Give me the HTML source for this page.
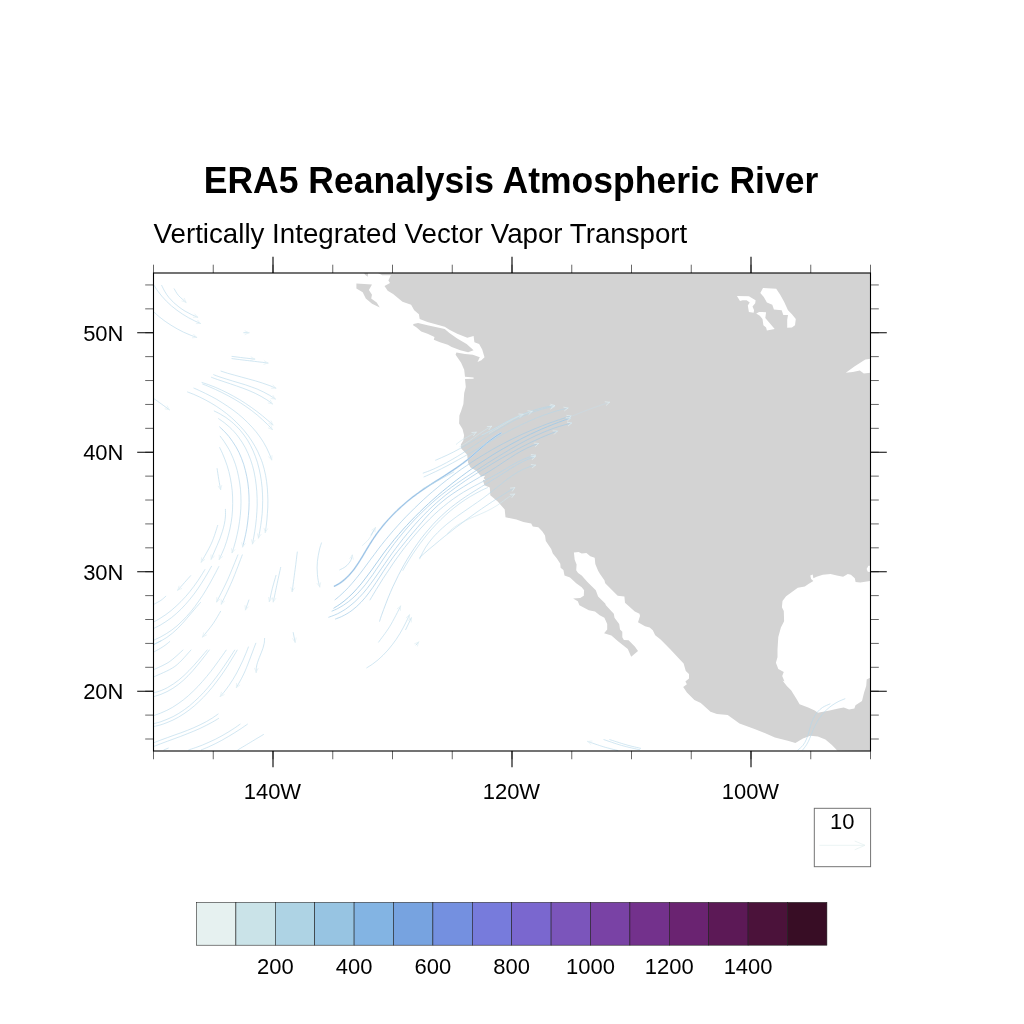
<!DOCTYPE html>
<html lang="en">
<head>
<meta charset="utf-8">
<title>ERA5 Reanalysis Atmospheric River</title>
<style>
html,body{margin:0;padding:0;background:#fff;}
body{width:1024px;height:1024px;overflow:hidden;}
svg{display:block;}
text{font-family:"Liberation Sans",Arial,Helvetica,sans-serif;fill:#000;}
</style>
</head>
<body>
<svg width="1024" height="1024" viewBox="0 0 1024 1024">
<rect width="1024" height="1024" fill="#ffffff"/>
<text transform="translate(511.00,193.30) scale(1,1.027)" font-size="35.52" text-anchor="middle" font-weight="bold" id="title">ERA5 Reanalysis Atmospheric River</text>
<text transform="translate(153.60,242.60) scale(1,1.023)" font-size="27.7" text-anchor="start" id="sub">Vertically Integrated Vector Vapor Transport</text>
<!-- land -->
<path d="M378.0,273.0 L382.2,275.2 L390.8,275.2 L388.4,280.6 L390.0,283.0 L384.5,286.1 L387.7,290.8 L393.1,293.9 L402.5,301.7 L411.1,304.8 L414.2,310.3 L418.9,314.2 L419.7,318.9 L427.5,322.0 L444.7,326.7 L449.4,329.8 L457.2,333.8 L467.3,337.7 L473.6,336.1 L474.4,342.3 L479.1,343.9 L482.2,349.4 L484.5,357.2 L481.4,360.3 L477.5,361.9 L479.8,357.2 L472.8,354.8 L465.0,354.1 L456.4,352.5 L455.6,354.8 L461.1,362.7 L464.2,369.7 L465.0,376.7 L473.6,377.5 L473.6,378.8 L465.0,379.1 L465.8,386.9 L464.2,393.1 L463.4,404.1 L461.1,411.1 L459.4,415.6 L459.1,423.4 L462.5,428.9 L464.1,435.2 L463.3,440.6 L460.9,444.5 L461.2,448.4 L467.2,454.7 L468.0,462.5 L470.3,467.2 L476.6,471.1 L481.2,476.6 L485.2,475.8 L483.6,478.1 L485.6,480.5 L482.8,479.7 L484.4,485.2 L489.8,487.5 L490.3,495.3 L497.7,501.6 L504.7,509.4 L505.5,517.2 L516.4,519.5 L523.4,521.9 L531.2,523.4 L532.8,526.6 L538.3,527.3 L542.2,531.2 L545.0,535.6 L545.8,541.1 L551.2,548.9 L552.8,553.6 L556.7,558.3 L560.3,563.8 L560.6,567.7 L563.4,570.0 L564.5,575.5 L570.0,577.5 L576.2,583.3 L581.7,587.2 L584.1,590.3 L583.8,595.8 L580.2,598.1 L573.1,598.4 L577.8,601.2 L579.4,605.2 L588.8,610.3 L595.0,611.4 L599.7,615.3 L604.4,617.7 L607.2,623.9 L607.2,629.4 L604.1,633.3 L611.4,635.6 L617.7,641.1 L627.8,648.9 L631.2,656.7 L638.0,650.9 L634.8,646.6 L628.6,640.3 L623.9,640.0 L622.3,637.2 L622.3,631.7 L620.0,629.4 L619.2,623.9 L614.5,617.7 L613.8,613.8 L605.9,605.2 L605.2,603.6 L598.1,596.6 L595.8,590.3 L587.2,581.7 L581.7,575.5 L578.1,573.1 L576.2,570.3 L576.6,564.5 L574.7,559.8 L573.9,552.5 L578.6,552.0 L581.7,553.6 L586.4,553.1 L590.3,556.2 L594.7,557.8 L595.3,564.1 L598.1,570.8 L600.0,573.9 L604.4,580.2 L605.2,583.3 L611.4,589.5 L617.7,595.8 L624.4,596.6 L625.0,602.8 L634.8,611.4 L639.5,613.8 L640.0,616.1 L638.0,622.3 L645.0,626.2 L649.7,627.5 L652.8,630.2 L655.2,635.3 L660.6,639.5 L670.0,648.9 L683.6,663.4 L685.8,670.9 L689.0,674.1 L689.0,678.4 L685.4,681.6 L686.9,684.2 L683.2,687.0 L686.9,692.4 L694.4,699.9 L700.8,703.1 L710.5,711.7 L716.9,713.9 L727.7,714.9 L739.5,723.5 L754.5,728.9 L765.3,733.2 L774.9,737.5 L787.8,740.7 L795.4,742.9 L802.9,738.6 L810.4,735.8 L817.9,736.4 L825.4,739.6 L831.9,745.0 L837.2,750.4 L870.5,750.95 L870.1,677.8 L866.7,679.5 L866.2,685.9 L864.1,692.4 L862.0,701.0 L855.5,705.3 L854.4,708.5 L849.1,709.6 L843.7,707.4 L838.3,708.5 L829.7,710.6 L817.9,712.8 L814.7,710.6 L808.2,707.4 L799.6,704.2 L796.4,698.8 L791.1,690.2 L786.8,685.9 L782.5,680.6 L784.5,681.4 L782.2,675.9 L783.8,672.0 L778.3,668.9 L775.9,662.7 L777.5,657.2 L777.5,649.4 L778.3,636.9 L780.9,627.5 L784.1,621.2 L783.8,611.1 L781.9,607.2 L782.5,600.9 L786.1,596.2 L791.6,592.3 L797.8,587.7 L804.8,586.6 L808.8,583.8 L813.4,580.9 L811.1,579.1 L810.3,575.6 L812.7,574.4 L813.4,578.3 L816.6,576.7 L822.8,574.7 L830.6,574.1 L836.9,575.6 L843.1,576.7 L847.8,574.1 L850.9,574.7 L854.8,578.3 L855.6,581.9 L860.3,582.5 L870.0,580.9 L870.5,581.0 L870.5,273.0Z M356.4,283.4 L372.0,284.5 L368.9,290.0 L372.0,294.7 L371.2,298.6 L376.7,302.5 L379.8,307.5 L372.0,303.8 L365.8,298.6 L362.7,292.3 L356.4,288.4Z M364.2,273.0 L368.1,273.0 L367.8,276.7 L365.0,274.7Z M413.4,324.1 L418.1,323.1 L427.5,325.2 L444.7,329.1 L449.4,333.0 L457.2,338.4 L466.6,343.9 L473.6,350.2 L468.1,352.2 L460.3,350.2 L451.7,347.0 L447.8,344.7 L440.0,342.3 L433.8,339.7 L434.5,336.9 L427.5,333.8 L421.2,331.4 L416.6,327.5 L413.1,325.2Z" fill="#d3d3d3" fill-rule="evenodd"/>
<path d="M763.0,288.1 L776.2,288.8 L780.2,294.7 L784.1,301.7 L788.0,310.3 L791.9,314.2 L795.8,318.9 L795.0,325.2 L791.9,327.5 L787.2,327.8 L787.2,319.7 L788.0,315.0 L783.3,315.0 L781.7,310.3 L773.9,309.5 L772.3,304.8 L766.9,302.5 L763.8,297.0 L760.3,293.1Z M736.9,295.9 L748.9,296.2 L755.6,300.2 L755.2,303.3 L752.5,306.4 L754.1,310.3 L753.6,312.7 L748.9,311.9 L747.8,305.6 L749.7,302.5 L746.6,300.2 L742.7,300.2 L740.0,300.9Z M756.2,313.4 L759.1,311.9 L766.1,312.2 L765.3,318.1 L770.0,323.6 L774.7,329.1 L766.9,330.6 L766.1,327.5 L763.4,325.2 L762.5,318.9 L759.8,315.8Z M845.8,372.8 L854.4,366.6 L865.3,359.5 L870.5,358.8 L870.5,372.8 L863.8,373.6 L859.8,370.5 L852.8,372.0Z M866.6,568.9 L868.4,565.8 L870.5,565.8 L870.5,572.0 L867.8,571.7Z" fill="#ffffff"/>
<!-- streamlines -->
<g fill="none" stroke-linecap="round">
<path d="M154.1,285.4 C154.7,286.3 156.5,289.3 157.8,291.1 C159.1,292.9 160.5,294.7 162.0,296.4 C163.5,298.1 165.0,299.8 166.6,301.4 C168.2,303.0 169.9,304.5 171.6,306.0 C173.3,307.5 175.1,308.8 176.9,310.2 C178.7,311.6 180.6,312.9 182.5,314.1 C184.4,315.3 186.3,316.5 188.3,317.6 C190.3,318.7 192.3,319.7 194.3,320.7 C196.3,321.7 199.5,323.0 200.5,323.5" stroke="#b4d6ea" stroke-width="0.6"/>
<path d="M200.5,323.5 L196.3,323.6 M200.5,323.5 L197.8,320.3" stroke="#e1eff3" stroke-width="0.7"/>
<path d="M161.7,285.4 C162.2,286.4 163.7,289.7 164.9,291.7 C166.1,293.7 167.4,295.7 168.9,297.5 C170.4,299.3 172.0,301.0 173.7,302.6 C175.4,304.2 177.2,305.7 179.1,307.1 C181.0,308.5 183.0,309.9 185.0,311.1 C187.0,312.3 189.1,313.4 191.2,314.4 C193.3,315.4 196.5,316.7 197.6,317.2" stroke="#b4d6ea" stroke-width="0.6"/>
<path d="M197.6,317.2 L193.4,317.3 M197.6,317.2 L194.8,314.0" stroke="#e1eff3" stroke-width="0.7"/>
<path d="M174.2,288.8 C174.9,289.9 176.6,293.4 178.6,295.6 C180.6,297.8 184.7,301.1 185.9,302.2" stroke="#b4d6ea" stroke-width="0.6"/>
<path d="M185.9,302.2 L181.9,301.0 M185.9,302.2 L184.3,298.3" stroke="#e1eff3" stroke-width="0.7"/>
<path d="M154.1,312.2 C155.0,313.0 157.6,315.4 159.4,316.9 C161.2,318.4 163.2,319.9 165.1,321.3 C167.0,322.7 169.0,323.9 171.0,325.2 C173.0,326.4 175.0,327.6 177.1,328.8 C179.2,330.0 181.3,331.1 183.4,332.1 C185.5,333.1 187.7,334.0 189.9,334.9 C192.1,335.8 195.5,337.0 196.6,337.4" stroke="#b4d6ea" stroke-width="0.6"/>
<path d="M196.6,337.4 L192.4,337.8 M196.6,337.4 L193.7,334.4" stroke="#e1eff3" stroke-width="0.7"/>
<path d="M243.8,332.7 L248.9,332.7" stroke="#b4d6ea" stroke-width="0.6"/>
<path d="M248.9,332.7 L245.1,334.5 M248.9,332.7 L245.1,330.9" stroke="#e1eff3" stroke-width="0.7"/>
<path d="M232.0,356.4 C234.0,356.6 240.0,357.4 243.8,357.9 C247.6,358.3 252.9,358.9 254.7,359.1" stroke="#b4d6ea" stroke-width="0.6"/>
<path d="M254.7,359.1 L250.7,360.5 M254.7,359.1 L251.1,356.9" stroke="#e1eff3" stroke-width="0.7"/>
<path d="M232.0,358.6 C234.9,359.0 243.6,360.1 249.6,360.8 C255.6,361.5 264.8,362.6 267.9,363.0" stroke="#b4d6ea" stroke-width="0.6"/>
<path d="M267.9,363.0 L263.9,364.3 M267.9,363.0 L264.3,360.8" stroke="#e1eff3" stroke-width="0.7"/>
<path d="M221.0,371.1 C222.1,371.5 225.5,372.6 227.8,373.3 C230.1,374.0 232.4,374.6 234.7,375.2 C237.0,375.8 239.3,376.5 241.6,377.1 C243.9,377.7 246.3,378.4 248.6,379.0 C250.9,379.6 253.2,380.2 255.5,380.9 C257.8,381.6 260.0,382.2 262.3,383.0 C264.6,383.8 266.9,384.5 269.1,385.4 C271.3,386.2 274.6,387.7 275.7,388.1" stroke="#b4d6ea" stroke-width="0.6"/>
<path d="M275.7,388.1 L271.5,388.3 M275.7,388.1 L272.9,385.0" stroke="#e1eff3" stroke-width="0.7"/>
<path d="M213.7,374.7 C214.7,375.1 217.8,376.3 219.9,377.0 C222.0,377.7 224.1,378.3 226.2,379.0 C228.3,379.7 230.5,380.4 232.6,381.0 C234.7,381.6 236.9,382.3 239.0,382.9 C241.1,383.5 243.2,384.1 245.3,384.8 C247.4,385.5 249.5,386.2 251.6,387.0 C253.7,387.8 255.7,388.4 257.7,389.3 C259.7,390.2 261.7,391.1 263.7,392.1 C265.7,393.1 267.7,394.2 269.6,395.3 C271.5,396.4 274.3,398.4 275.2,399.0" stroke="#b4d6ea" stroke-width="0.6"/>
<path d="M275.2,399.0 L271.0,398.4 M275.2,399.0 L273.0,395.4" stroke="#e1eff3" stroke-width="0.7"/>
<path d="M211.5,377.3 C212.5,377.7 215.6,378.9 217.7,379.6 C219.8,380.3 221.9,381.0 224.0,381.7 C226.1,382.4 228.2,383.1 230.3,383.8 C232.4,384.5 234.6,385.3 236.7,386.0 C238.8,386.7 240.8,387.4 242.9,388.2 C245.0,389.0 247.1,389.8 249.1,390.6 C251.1,391.5 253.2,392.3 255.2,393.3 C257.2,394.3 259.2,395.3 261.1,396.4 C263.0,397.5 264.9,398.6 266.8,399.8 C268.7,401.0 271.4,403.1 272.3,403.8" stroke="#b4d6ea" stroke-width="0.6"/>
<path d="M272.3,403.8 L268.2,403.0 M272.3,403.8 L270.3,400.1" stroke="#e1eff3" stroke-width="0.7"/>
<path d="M202.0,382.5 C203.1,382.9 206.4,383.9 208.6,384.7 C210.8,385.5 213.0,386.3 215.1,387.2 C217.2,388.1 219.3,389.0 221.4,390.0 C223.5,391.0 225.6,391.9 227.6,393.0 C229.6,394.1 231.7,395.2 233.7,396.3 C235.7,397.4 237.7,398.5 239.7,399.7 C241.7,400.9 243.6,402.1 245.5,403.4 C247.4,404.7 249.3,406.0 251.2,407.3 C253.1,408.6 255.0,410.0 256.8,411.4 C258.7,412.8 260.5,414.2 262.3,415.7 C264.1,417.2 265.9,418.7 267.6,420.2 C269.4,421.7 271.9,424.0 272.8,424.8" stroke="#b4d6ea" stroke-width="0.6"/>
<path d="M272.8,424.8 L268.8,423.6 M272.8,424.8 L271.1,420.9" stroke="#e1eff3" stroke-width="0.7"/>
<path d="M202.7,384.1 C203.8,384.5 207.0,385.8 209.2,386.7 C211.3,387.6 213.5,388.5 215.6,389.5 C217.7,390.5 219.8,391.5 221.9,392.5 C224.0,393.5 226.1,394.6 228.1,395.7 C230.1,396.8 232.2,397.9 234.2,399.1 C236.2,400.3 238.2,401.4 240.2,402.7 C242.2,403.9 244.2,405.3 246.1,406.6 C248.0,407.9 249.8,409.2 251.7,410.6 C253.5,412.0 255.4,413.5 257.2,415.0 C259.0,416.5 260.7,418.0 262.4,419.6 C264.1,421.2 265.9,422.8 267.5,424.4 C269.1,426.0 271.5,428.6 272.3,429.5" stroke="#b4d6ea" stroke-width="0.6"/>
<path d="M272.3,429.5 L268.4,428.0 M272.3,429.5 L271.0,425.5" stroke="#e1eff3" stroke-width="0.7"/>
<path d="M193.9,388.1 C194.9,388.5 197.8,389.8 199.7,390.7 C201.6,391.6 203.5,392.5 205.4,393.4 C207.3,394.3 209.2,395.3 211.1,396.3 C213.0,397.3 214.9,398.3 216.8,399.4 C218.7,400.5 220.5,401.6 222.3,402.8 C224.1,404.0 225.9,405.1 227.7,406.3 C229.5,407.5 231.3,408.7 233.0,410.0 C234.7,411.3 236.4,412.5 238.1,413.9 C239.8,415.2 241.4,416.7 243.0,418.1 C244.6,419.5 246.1,421.0 247.6,422.5 C249.1,424.0 250.6,425.5 252.0,427.1 C253.4,428.7 254.9,430.2 256.2,431.9 C257.5,433.5 258.8,435.3 260.0,437.0 C261.2,438.7 262.4,440.5 263.5,442.3 C264.6,444.1 265.6,446.0 266.6,447.9 C267.6,449.8 268.5,451.7 269.3,453.7 C270.1,455.7 271.3,458.8 271.7,459.8" stroke="#b4d6ea" stroke-width="0.6"/>
<path d="M271.7,459.8 L268.6,456.9 M271.7,459.8 L272.0,455.6" stroke="#e1eff3" stroke-width="0.7"/>
<path d="M187.6,392.0 C188.6,392.4 191.6,393.5 193.6,394.3 C195.6,395.1 197.5,396.0 199.4,396.9 C201.3,397.8 203.3,398.8 205.2,399.8 C207.1,400.8 209.0,401.8 210.8,402.9 C212.6,404.0 214.4,405.0 216.2,406.2 C218.0,407.4 219.8,408.6 221.5,409.8 C223.2,411.0 224.9,412.3 226.6,413.6 C228.2,414.9 229.8,416.2 231.4,417.6 C233.0,419.0 234.5,420.4 236.0,421.9 C237.5,423.4 239.0,424.9 240.4,426.4 C241.8,427.9 243.2,429.4 244.5,431.0 C245.8,432.6 247.1,434.2 248.3,435.9 C249.5,437.6 250.7,439.3 251.8,441.0 C252.9,442.7 254.0,444.5 255.0,446.3 C256.0,448.1 256.9,449.9 257.8,451.7 C258.7,453.5 259.5,455.5 260.3,457.4 C261.1,459.3 261.9,461.2 262.5,463.2 C263.1,465.1 263.7,467.1 264.2,469.1 C264.7,471.1 265.2,473.2 265.6,475.3 C266.0,477.4 266.3,479.4 266.6,481.5 C266.9,483.6 267.1,485.7 267.3,487.8 C267.5,489.9 267.6,492.1 267.7,494.2 C267.8,496.3 267.9,498.5 267.9,500.7 C267.9,502.9 267.9,505.0 267.8,507.1 C267.7,509.2 267.5,511.4 267.4,513.5 C267.2,515.6 267.1,517.8 266.9,519.9 C266.7,522.0 266.5,524.1 266.2,526.2 C265.9,528.3 265.4,531.3 265.3,532.3" stroke="#b4d6ea" stroke-width="0.6"/>
<path d="M265.3,532.3 L264.1,528.3 M265.3,532.3 L267.6,528.8" stroke="#e1eff3" stroke-width="0.7"/>
<path d="M214.2,411.0 C215.2,411.5 218.4,413.0 220.3,414.1 C222.2,415.2 224.1,416.3 225.9,417.5 C227.7,418.7 229.4,420.0 231.1,421.4 C232.8,422.8 234.3,424.2 235.8,425.6 C237.3,427.1 238.7,428.5 240.1,430.1 C241.5,431.7 242.8,433.3 244.0,435.0 C245.2,436.7 246.4,438.4 247.5,440.1 C248.6,441.8 249.6,443.6 250.5,445.4 C251.4,447.2 252.4,449.1 253.2,451.0 C254.0,452.9 254.8,454.9 255.5,456.8 C256.2,458.8 256.9,460.7 257.5,462.7 C258.1,464.7 258.6,466.8 259.1,468.8 C259.6,470.9 260.0,472.9 260.4,475.0 C260.8,477.1 261.1,479.2 261.4,481.3 C261.7,483.4 261.9,485.5 262.1,487.6 C262.3,489.7 262.4,492.0 262.5,494.1 C262.6,496.2 262.7,498.4 262.7,500.5 C262.7,502.6 262.6,504.8 262.5,506.9 C262.4,509.0 262.4,511.2 262.2,513.3 C262.0,515.4 261.8,517.5 261.5,519.6 C261.2,521.7 261.0,523.8 260.7,525.8 C260.4,527.8 260.1,529.9 259.7,531.9 C259.3,533.9 258.7,536.9 258.5,537.9" stroke="#b4d6ea" stroke-width="0.6"/>
<path d="M258.5,537.9 L257.5,533.8 M258.5,537.9 L261.0,534.5" stroke="#e1eff3" stroke-width="0.7"/>
<path d="M218.6,418.7 C219.6,419.4 222.5,421.3 224.3,422.7 C226.1,424.1 227.8,425.6 229.5,427.1 C231.2,428.6 232.7,430.2 234.2,431.8 C235.7,433.4 237.0,435.1 238.3,436.8 C239.6,438.5 240.8,440.3 242.0,442.1 C243.2,443.9 244.3,445.8 245.3,447.7 C246.3,449.6 247.2,451.5 248.1,453.5 C249.0,455.5 249.8,457.5 250.5,459.5 C251.2,461.5 251.9,463.6 252.5,465.7 C253.1,467.8 253.6,469.9 254.1,472.0 C254.6,474.1 255.0,476.3 255.3,478.5 C255.7,480.7 255.9,482.8 256.2,485.0 C256.4,487.2 256.6,489.4 256.8,491.6 C257.0,493.8 257.0,496.1 257.1,498.3 C257.2,500.5 257.2,502.8 257.2,505.0 C257.2,507.2 257.0,509.4 256.9,511.6 C256.8,513.8 256.6,516.1 256.4,518.3 C256.2,520.5 256.0,522.6 255.7,524.8 C255.4,527.0 255.1,529.2 254.8,531.3 C254.5,533.4 254.1,535.5 253.7,537.6 C253.3,539.7 252.7,542.8 252.5,543.8" stroke="#b4d6ea" stroke-width="0.6"/>
<path d="M252.5,543.8 L251.5,539.7 M252.5,543.8 L255.0,540.4" stroke="#e1eff3" stroke-width="0.7"/>
<path d="M219.7,427.0 C220.5,427.8 223.0,430.0 224.5,431.6 C226.0,433.2 227.5,434.7 228.8,436.4 C230.2,438.1 231.4,439.9 232.6,441.6 C233.8,443.4 234.9,445.1 236.0,446.9 C237.1,448.7 238.1,450.6 239.0,452.5 C239.9,454.4 240.7,456.3 241.5,458.3 C242.3,460.3 243.0,462.3 243.7,464.3 C244.3,466.3 244.9,468.4 245.4,470.5 C245.9,472.6 246.4,474.6 246.8,476.7 C247.2,478.8 247.6,481.0 247.9,483.1 C248.2,485.2 248.4,487.4 248.6,489.5 C248.8,491.6 248.9,493.8 249.0,496.0 C249.1,498.2 249.1,500.3 249.1,502.5 C249.1,504.7 249.0,506.8 248.9,509.0 C248.8,511.2 248.6,513.3 248.4,515.5 C248.2,517.7 248.0,519.9 247.7,522.0 C247.4,524.1 247.2,526.2 246.8,528.3 C246.5,530.4 246.0,532.5 245.6,534.6 C245.2,536.7 244.7,538.8 244.2,540.8 C243.7,542.8 242.9,545.8 242.6,546.8" stroke="#a3cbe6" stroke-width="0.7"/>
<path d="M242.6,546.8 L241.8,542.7 M242.6,546.8 L245.3,543.6" stroke="#e1eff3" stroke-width="0.7"/>
<path d="M220.2,436.2 C220.8,437.1 222.9,439.7 224.1,441.5 C225.3,443.3 226.4,445.1 227.5,446.9 C228.6,448.7 229.7,450.6 230.6,452.5 C231.5,454.4 232.4,456.4 233.2,458.4 C234.0,460.4 234.7,462.3 235.4,464.3 C236.1,466.3 236.7,468.3 237.2,470.4 C237.7,472.5 238.2,474.6 238.6,476.7 C239.0,478.8 239.4,480.9 239.7,483.0 C240.0,485.1 240.3,487.2 240.5,489.4 C240.7,491.5 240.8,493.8 240.9,495.9 C241.0,498.0 241.0,500.1 241.0,502.3 C241.0,504.5 240.9,506.6 240.8,508.8 C240.7,511.0 240.5,513.1 240.3,515.3 C240.1,517.4 239.8,519.6 239.5,521.7 C239.2,523.8 238.9,526.0 238.5,528.1 C238.1,530.2 237.7,532.3 237.2,534.4 C236.7,536.5 236.2,538.6 235.7,540.7 C235.2,542.8 234.6,544.8 234.0,546.8 C233.4,548.8 232.4,551.7 232.1,552.7" stroke="#b4d6ea" stroke-width="0.6"/>
<path d="M232.1,552.7 L231.6,548.5 M232.1,552.7 L235.0,549.6" stroke="#e1eff3" stroke-width="0.7"/>
<path d="M219.7,447.6 C220.2,448.6 221.6,451.5 222.5,453.5 C223.4,455.5 224.1,457.4 224.9,459.4 C225.7,461.4 226.4,463.4 227.1,465.5 C227.8,467.6 228.4,469.6 228.9,471.7 C229.4,473.8 229.9,475.8 230.3,477.9 C230.7,480.0 231.1,482.2 231.4,484.3 C231.7,486.4 232.0,488.5 232.2,490.6 C232.4,492.7 232.5,494.9 232.6,497.0 C232.7,499.1 232.7,501.4 232.7,503.5 C232.7,505.6 232.6,507.8 232.5,509.9 C232.4,512.0 232.2,514.2 232.0,516.3 C231.8,518.4 231.4,520.6 231.1,522.7 C230.8,524.8 230.3,526.9 229.9,529.0 C229.5,531.1 229.0,533.1 228.4,535.2 C227.8,537.3 227.2,539.4 226.6,541.4 C225.9,543.4 225.3,545.5 224.5,547.5 C223.7,549.5 222.9,551.4 222.0,553.4 C221.1,555.4 219.8,558.3 219.3,559.3" stroke="#b4d6ea" stroke-width="0.6"/>
<path d="M219.3,559.3 L219.2,555.1 M219.3,559.3 L222.5,556.6" stroke="#e1eff3" stroke-width="0.7"/>
<path d="M217.1,468.6 C217.4,470.4 218.2,476.1 218.8,479.6 C219.4,483.1 220.3,487.9 220.6,489.6" stroke="#b4d6ea" stroke-width="0.6"/>
<path d="M220.6,489.6 L218.2,486.2 M220.6,489.6 L221.7,485.5" stroke="#e1eff3" stroke-width="0.7"/>
<path d="M154.1,398.8 C155.4,399.7 159.2,402.4 161.7,404.2 C164.2,406.0 168.0,408.8 169.3,409.7" stroke="#b4d6ea" stroke-width="0.6"/>
<path d="M169.3,409.7 L165.2,408.9 M169.3,409.7 L167.3,406.0" stroke="#e1eff3" stroke-width="0.7"/>
<path d="M225.4,509.3 C225.4,510.6 225.6,514.4 225.4,516.9 C225.2,519.4 224.8,521.8 224.3,524.2 C223.8,526.6 223.1,529.0 222.4,531.4 C221.7,533.8 220.9,536.1 220.0,538.4 C219.1,540.7 218.1,543.1 217.1,545.4 C216.1,547.7 215.1,550.0 214.1,552.3 C213.1,554.6 211.7,558.0 211.2,559.1" stroke="#b4d6ea" stroke-width="0.6"/>
<path d="M211.2,559.1 L211.0,554.9 M211.2,559.1 L214.3,556.3" stroke="#e1eff3" stroke-width="0.7"/>
<path d="M217.7,525.4 C216.7,528.4 214.2,537.1 211.5,543.2 C208.8,549.3 203.0,558.9 201.3,562.0" stroke="#b4d6ea" stroke-width="0.6"/>
<path d="M201.3,562.0 L201.5,557.8 M201.3,562.0 L204.7,559.5" stroke="#e1eff3" stroke-width="0.7"/>
<path d="M177.8,590.1 C178.9,588.9 182.3,585.1 184.4,582.7 C186.5,580.3 189.6,576.9 190.6,575.7" stroke="#b4d6ea" stroke-width="0.6"/>
<path d="M177.8,590.1 L179.0,586.1 M177.8,590.1 L181.7,588.5" stroke="#e1eff3" stroke-width="0.7"/>
<path d="M154.4,604.0 C155.5,603.4 159.1,601.6 161.0,600.3 C162.9,599.0 165.0,596.9 165.8,596.2" stroke="#b4d6ea" stroke-width="0.6"/>
<path d="M154.4,621.6 C155.4,621.0 158.3,619.5 160.2,618.3 C162.1,617.1 164.0,615.9 165.8,614.6 C167.6,613.3 169.4,612.0 171.1,610.6 C172.8,609.2 174.5,607.7 176.1,606.2 C177.7,604.7 179.3,603.2 180.9,601.6 C182.5,600.0 184.0,598.4 185.5,596.7 C187.0,595.0 188.4,593.3 189.8,591.6 C191.2,589.9 192.6,588.1 193.9,586.3 C195.2,584.5 196.6,582.6 197.8,580.8 C199.1,579.0 200.2,577.2 201.4,575.3 C202.6,573.4 204.3,570.5 204.9,569.6" stroke="#b4d6ea" stroke-width="0.6"/>
<path d="M154.4,628.1 C155.4,627.6 158.4,626.2 160.3,625.1 C162.2,624.0 164.1,622.8 165.9,621.6 C167.7,620.4 169.6,619.1 171.3,617.8 C173.0,616.5 174.7,615.0 176.3,613.6 C177.9,612.2 179.6,610.7 181.1,609.1 C182.6,607.5 184.1,605.9 185.6,604.3 C187.1,602.7 188.5,601.0 189.9,599.3 C191.3,597.6 192.7,595.9 194.0,594.1 C195.3,592.4 196.6,590.6 197.8,588.8 C199.1,587.0 200.3,585.1 201.5,583.2 C202.7,581.3 203.9,579.5 205.0,577.6 C206.1,575.7 207.2,573.9 208.3,572.0 C209.4,570.1 211.0,567.2 211.5,566.3" stroke="#b4d6ea" stroke-width="0.6"/>
<path d="M154.4,639.9 C155.4,639.4 158.5,638.0 160.5,637.0 C162.5,636.0 164.4,634.9 166.3,633.7 C168.2,632.5 170.0,631.3 171.8,630.0 C173.6,628.7 175.3,627.3 177.0,625.9 C178.7,624.5 180.2,622.9 181.8,621.4 C183.4,619.9 184.9,618.3 186.4,616.7 C187.9,615.1 189.4,613.4 190.8,611.7 C192.2,610.0 193.6,608.3 194.9,606.5 C196.2,604.7 197.5,602.8 198.8,601.0 C200.1,599.2 201.4,597.4 202.6,595.5 C203.8,593.6 204.9,591.7 206.1,589.8 C207.2,587.9 208.4,585.9 209.5,584.0 C210.6,582.1 211.6,580.1 212.7,578.2 C213.8,576.3 214.8,574.3 215.8,572.4 C216.8,570.5 218.3,567.6 218.8,566.6" stroke="#b4d6ea" stroke-width="0.6"/>
<path d="M154.4,644.0 C155.5,643.5 158.8,642.1 160.9,641.0 C163.0,639.9 165.0,638.7 166.9,637.4 C168.8,636.1 170.6,634.7 172.4,633.2 C174.2,631.7 175.8,630.2 177.5,628.6 C179.2,627.0 180.7,625.3 182.3,623.6 C183.9,621.9 185.4,620.1 186.9,618.3 C188.4,616.5 189.9,614.8 191.4,613.0 C192.9,611.2 194.4,609.5 195.9,607.7 C197.4,606.0 199.7,603.4 200.5,602.5" stroke="#b4d6ea" stroke-width="0.6"/>
<path d="M216.7,601.8 C218.5,598.1 224.1,587.6 227.6,579.8 C231.1,572.0 236.2,559.0 237.9,554.9" stroke="#b4d6ea" stroke-width="0.6"/>
<path d="M216.7,601.8 L216.8,597.6 M216.7,601.8 L220.0,599.2" stroke="#e1eff3" stroke-width="0.7"/>
<path d="M221.3,604.0 C223.1,600.2 228.5,589.5 232.0,581.3 C235.5,573.1 240.6,559.3 242.3,554.9" stroke="#b4d6ea" stroke-width="0.6"/>
<path d="M221.3,604.0 L221.3,599.8 M221.3,604.0 L224.5,601.3" stroke="#e1eff3" stroke-width="0.7"/>
<path d="M202.7,636.9 C204.4,634.7 210.0,628.1 213.0,623.8 C216.0,619.5 219.3,613.4 220.6,611.3" stroke="#b4d6ea" stroke-width="0.6"/>
<path d="M202.7,636.9 L203.6,632.8 M202.7,636.9 L206.5,635.0" stroke="#e1eff3" stroke-width="0.7"/>
<path d="M245.5,609.8 L248.9,600.0" stroke="#b4d6ea" stroke-width="0.6"/>
<path d="M245.5,609.8 L245.0,605.6 M245.5,609.8 L248.4,606.8" stroke="#e1eff3" stroke-width="0.7"/>
<path d="M269.4,601.5 C269.9,599.4 271.2,593.0 272.3,588.6 C273.4,584.2 275.4,577.6 276.0,575.4" stroke="#b4d6ea" stroke-width="0.6"/>
<path d="M269.4,601.5 L268.5,597.4 M269.4,601.5 L272.0,598.2" stroke="#e1eff3" stroke-width="0.7"/>
<path d="M273.3,601.8 C273.9,599.1 275.5,591.4 276.7,585.7 C277.9,580.0 280.0,570.5 280.7,567.4" stroke="#b4d6ea" stroke-width="0.6"/>
<path d="M273.3,601.8 L272.3,597.7 M273.3,601.8 L275.8,598.5" stroke="#e1eff3" stroke-width="0.7"/>
<path d="M154.4,651.7 C155.9,650.9 160.6,648.3 163.2,646.6 C165.8,644.9 168.7,642.4 169.8,641.5" stroke="#b4d6ea" stroke-width="0.6"/>
<path d="M154.4,644.4 L161.0,640.7" stroke="#b4d6ea" stroke-width="0.6"/>
<path d="M154.4,669.3 C156.8,668.1 164.2,665.2 169.0,662.0 C173.8,658.8 180.7,652.0 183.0,650.0" stroke="#b4d6ea" stroke-width="0.6"/>
<path d="M154.4,676.6 C157.8,674.9 168.8,670.8 174.9,666.4 C181.0,662.0 188.3,652.7 191.0,650.0" stroke="#b4d6ea" stroke-width="0.6"/>
<path d="M154.4,692.7 C155.5,692.3 159.0,691.4 161.2,690.5 C163.4,689.6 165.5,688.7 167.5,687.6 C169.5,686.5 171.4,685.3 173.3,684.0 C175.2,682.7 177.0,681.4 178.8,680.0 C180.6,678.6 182.3,677.0 184.0,675.5 C185.7,674.0 187.3,672.3 188.9,670.7 C190.5,669.1 192.1,667.4 193.6,665.7 C195.1,664.0 196.7,662.2 198.2,660.5 C199.7,658.8 201.2,657.0 202.7,655.2 C204.2,653.5 206.4,650.9 207.1,650.0" stroke="#b4d6ea" stroke-width="0.6"/>
<path d="M154.4,696.4 C155.5,696.0 158.9,695.1 161.0,694.3 C163.1,693.5 165.1,692.6 167.1,691.6 C169.1,690.6 171.0,689.5 172.9,688.3 C174.8,687.1 176.6,685.8 178.3,684.5 C180.1,683.2 181.8,681.8 183.4,680.3 C185.0,678.8 186.6,677.3 188.1,675.7 C189.6,674.1 191.2,672.5 192.7,670.8 C194.2,669.1 195.6,667.4 197.0,665.7 C198.4,664.0 199.8,662.2 201.2,660.5 C202.6,658.8 204.0,657.0 205.3,655.3 C206.7,653.5 208.6,650.9 209.3,650.0" stroke="#b4d6ea" stroke-width="0.6"/>
<path d="M154.4,715.4 C155.4,715.0 158.6,713.9 160.7,713.1 C162.8,712.3 164.8,711.4 166.8,710.4 C168.8,709.4 170.7,708.4 172.6,707.3 C174.5,706.2 176.3,704.9 178.1,703.7 C179.9,702.5 181.6,701.2 183.3,699.9 C185.0,698.6 186.8,697.2 188.4,695.7 C190.1,694.2 191.6,692.7 193.2,691.2 C194.8,689.7 196.4,688.1 197.9,686.5 C199.4,684.9 200.8,683.3 202.3,681.6 C203.8,679.9 205.3,678.2 206.7,676.5 C208.1,674.8 209.5,673.1 210.8,671.4 C212.2,669.7 213.5,667.9 214.8,666.1 C216.1,664.3 217.4,662.5 218.7,660.7 C220.0,658.9 221.2,657.2 222.5,655.4 C223.8,653.6 225.6,651.0 226.2,650.1" stroke="#b4d6ea" stroke-width="0.6"/>
<path d="M154.4,723.5 C155.5,723.2 158.8,722.4 160.9,721.7 C163.0,721.0 165.1,720.1 167.1,719.3 C169.1,718.4 171.1,717.6 173.1,716.6 C175.1,715.6 177.0,714.5 178.8,713.4 C180.7,712.3 182.4,711.0 184.2,709.8 C186.0,708.5 187.7,707.3 189.4,705.9 C191.1,704.5 192.7,703.1 194.3,701.6 C195.9,700.1 197.5,698.6 199.1,697.1 C200.7,695.6 202.2,694.0 203.7,692.4 C205.2,690.8 206.6,689.2 208.0,687.5 C209.4,685.8 210.8,684.1 212.2,682.4 C213.6,680.7 215.0,678.9 216.3,677.1 C217.6,675.3 218.9,673.6 220.2,671.8 C221.5,670.0 222.8,668.1 224.0,666.3 C225.2,664.5 226.5,662.7 227.7,660.9 C228.9,659.1 230.0,657.3 231.2,655.5 C232.4,653.7 234.1,651.0 234.7,650.1" stroke="#b4d6ea" stroke-width="0.6"/>
<path d="M154.4,726.4 C155.5,726.1 158.7,725.4 160.8,724.8 C162.9,724.2 165.0,723.4 167.0,722.6 C169.0,721.8 171.0,721.0 172.9,720.1 C174.8,719.2 176.8,718.2 178.6,717.1 C180.4,716.0 182.2,714.9 184.0,713.7 C185.8,712.5 187.5,711.3 189.2,710.0 C190.9,708.7 192.6,707.4 194.2,706.0 C195.8,704.6 197.3,703.2 198.9,701.7 C200.5,700.2 202.0,698.8 203.5,697.2 C205.0,695.7 206.5,694.0 207.9,692.4 C209.3,690.8 210.7,689.2 212.1,687.5 C213.5,685.8 214.8,684.0 216.1,682.3 C217.4,680.6 218.7,678.9 220.0,677.1 C221.3,675.4 222.5,673.6 223.7,671.8 C224.9,670.0 226.1,668.2 227.3,666.4 C228.5,664.6 229.6,662.7 230.7,660.9 C231.8,659.1 232.9,657.3 234.0,655.5 C235.1,653.7 236.7,651.0 237.2,650.1" stroke="#b4d6ea" stroke-width="0.6"/>
<path d="M220.3,696.4 C221.1,695.5 223.5,692.8 225.0,690.9 C226.5,689.0 227.8,687.2 229.2,685.2 C230.5,683.2 231.8,681.2 233.1,679.2 C234.3,677.2 235.6,675.1 236.7,673.0 C237.8,670.9 238.8,668.8 239.9,666.7 C241.0,664.6 242.0,662.4 243.0,660.2 C244.0,658.0 244.9,655.8 245.8,653.6 C246.7,651.4 248.0,648.1 248.4,647.0" stroke="#b4d6ea" stroke-width="0.6"/>
<path d="M220.3,696.4 L221.4,692.3 M220.3,696.4 L224.1,694.7" stroke="#e1eff3" stroke-width="0.7"/>
<path d="M236.4,687.6 C237.9,684.8 242.0,678.2 245.2,670.8 C248.4,663.4 254.0,647.8 255.8,643.2" stroke="#b4d6ea" stroke-width="0.6"/>
<path d="M236.4,687.6 L236.6,683.4 M236.4,687.6 L239.8,685.1" stroke="#e1eff3" stroke-width="0.7"/>
<path d="M256.2,672.2 C256.2,671.4 256.2,668.9 256.4,667.2 C256.6,665.6 257.1,663.9 257.6,662.3 C258.1,660.7 258.7,659.2 259.3,657.6 C259.9,656.0 260.6,654.5 261.2,652.9 C261.8,651.3 262.5,649.7 263.0,648.1 C263.5,646.5 263.9,644.9 264.2,643.3 C264.5,641.7 264.5,639.2 264.6,638.4" stroke="#b4d6ea" stroke-width="0.6"/>
<path d="M256.2,672.2 L254.6,668.3 M256.2,672.2 L258.1,668.5" stroke="#e1eff3" stroke-width="0.7"/>
<path d="M154.4,742.5 C155.5,742.1 158.7,740.8 160.9,740.0 C163.1,739.2 165.3,738.4 167.5,737.6 C169.7,736.8 171.9,736.0 174.1,735.2 C176.3,734.4 178.5,733.7 180.7,732.9 C182.9,732.1 185.1,731.3 187.3,730.4 C189.5,729.5 191.7,728.6 193.8,727.7 C195.9,726.8 198.0,725.8 200.1,724.8 C202.2,723.8 204.3,722.7 206.4,721.6 C208.5,720.5 210.5,719.3 212.4,718.0 C214.3,716.7 217.2,714.7 218.1,714.0" stroke="#b4d6ea" stroke-width="0.6"/>
<path d="M154.4,746.2 C155.5,745.8 158.7,744.5 160.9,743.7 C163.1,742.9 165.3,742.0 167.5,741.2 C169.7,740.4 171.9,739.6 174.1,738.8 C176.3,738.0 178.4,737.2 180.6,736.4 C182.8,735.6 185.0,734.7 187.2,733.8 C189.4,732.9 191.5,732.1 193.7,731.2 C195.8,730.3 198.0,729.4 200.1,728.4 C202.2,727.4 204.3,726.4 206.4,725.3 C208.5,724.2 210.6,723.1 212.6,722.0 C214.6,720.9 217.6,719.0 218.6,718.4" stroke="#b4d6ea" stroke-width="0.6"/>
<path d="M188.8,749.9 C189.9,749.5 193.3,748.4 195.6,747.6 C197.9,746.8 200.2,746.0 202.4,745.1 C204.6,744.2 206.8,743.2 209.0,742.2 C211.2,741.2 213.3,740.3 215.5,739.2 C217.7,738.1 219.8,737.0 221.9,735.8 C224.0,734.6 226.1,733.5 228.1,732.2 C230.1,731.0 232.2,729.6 234.2,728.3 C236.2,727.0 239.1,724.9 240.1,724.2" stroke="#b4d6ea" stroke-width="0.6"/>
<path d="M201.3,749.9 C202.5,749.4 206.0,748.0 208.3,747.0 C210.6,746.0 212.8,744.9 215.1,743.8 C217.3,742.7 219.6,741.5 221.8,740.3 C224.0,739.1 226.2,737.8 228.4,736.5 C230.6,735.2 232.7,733.9 234.8,732.6 C236.9,731.3 239.1,729.9 241.2,728.5 C243.3,727.1 246.4,724.9 247.4,724.2" stroke="#b4d6ea" stroke-width="0.6"/>
<path d="M237.9,749.9 C240.3,748.4 248.2,743.7 252.5,741.1 C256.8,738.5 261.7,735.6 263.5,734.5" stroke="#b4d6ea" stroke-width="0.6"/>
<path d="M163.9,749.9 L168.3,748.1" stroke="#b4d6ea" stroke-width="0.6"/>
<path d="M339.8,569.8 C340.2,569.6 341.5,569.0 342.4,568.6 C343.2,568.2 344.1,567.7 344.9,567.1 C345.7,566.5 346.4,566.0 347.1,565.3 C347.8,564.6 348.4,563.9 349.0,563.1 C349.6,562.3 350.2,561.6 350.6,560.7 C351.1,559.9 351.4,558.9 351.7,558.0 C352.0,557.1 352.2,555.7 352.3,555.2" stroke="#b4d6ea" stroke-width="0.6"/>
<path d="M352.3,555.2 L353.3,559.3 M352.3,555.2 L349.7,558.5" stroke="#e1eff3" stroke-width="0.7"/>
<path d="M362.5,545.4 C363.6,544.3 367.2,541.4 369.1,538.8 C371.1,536.2 373.4,531.5 374.2,530.0" stroke="#cfe5ee" stroke-width="0.6"/>
<path d="M321.5,542.9 C321.2,543.9 320.1,547.0 319.6,549.0 C319.1,551.0 318.7,553.1 318.3,555.2 C317.9,557.3 317.6,559.4 317.4,561.5 C317.2,563.6 317.1,565.8 317.1,567.9 C317.1,570.0 317.2,572.2 317.4,574.3 C317.6,576.4 317.8,578.5 318.2,580.6 C318.6,582.7 319.4,585.8 319.7,586.8" stroke="#b4d6ea" stroke-width="0.6"/>
<path d="M319.7,586.8 L317.1,583.5 M319.7,586.8 L320.6,582.7" stroke="#e1eff3" stroke-width="0.7"/>
<path d="M297.3,552.0 C296.9,554.9 296.0,563.0 295.1,569.6 C294.2,576.2 292.7,587.9 292.2,591.5" stroke="#b4d6ea" stroke-width="0.6"/>
<path d="M292.2,591.5 L290.9,587.5 M292.2,591.5 L294.5,588.0" stroke="#e1eff3" stroke-width="0.7"/>
<path d="M293.2,632.5 L295.1,642.1" stroke="#b4d6ea" stroke-width="0.6"/>
<path d="M295.1,642.1 L292.6,638.7 M295.1,642.1 L296.1,638.0" stroke="#e1eff3" stroke-width="0.7"/>
<path d="M378.6,642.1 C380.4,639.5 385.9,632.7 389.6,626.7 C393.3,620.7 398.8,609.6 400.6,606.2" stroke="#b4d6ea" stroke-width="0.6"/>
<path d="M400.6,606.2 L400.4,610.4 M400.6,606.2 L397.2,608.7" stroke="#e1eff3" stroke-width="0.7"/>
<path d="M366.8,667.8 C367.8,667.2 370.8,665.3 372.7,664.0 C374.6,662.7 376.4,661.3 378.1,659.8 C379.9,658.3 381.6,656.7 383.2,655.1 C384.8,653.5 386.4,651.8 387.9,650.1 C389.4,648.4 390.8,646.6 392.2,644.8 C393.6,643.0 395.0,641.1 396.3,639.2 C397.6,637.3 398.8,635.4 400.0,633.4 C401.2,631.4 402.3,629.4 403.4,627.4 C404.5,625.4 405.5,623.3 406.5,621.2 C407.5,619.1 408.9,616.0 409.4,615.0" stroke="#b4d6ea" stroke-width="0.6"/>
<path d="M409.4,615.0 L409.4,619.2 M409.4,615.0 L406.2,617.7" stroke="#e1eff3" stroke-width="0.7"/>
<path d="M405.7,629.6 L411.3,617.9" stroke="#b4d6ea" stroke-width="0.6"/>
<path d="M411.3,617.9 L411.3,622.1 M411.3,617.9 L408.0,620.6" stroke="#e1eff3" stroke-width="0.7"/>
<path d="M416.0,645.0 L418.6,642.1" stroke="#b4d6ea" stroke-width="0.6"/>
<path d="M418.6,642.1 L417.4,646.1 M418.6,642.1 L414.7,643.7" stroke="#e1eff3" stroke-width="0.7"/>
<path d="M371.0,535.0 L375.4,527.7" stroke="#b4d6ea" stroke-width="0.6"/>
<path d="M375.4,527.7 L375.0,531.9 M375.4,527.7 L371.9,530.0" stroke="#e1eff3" stroke-width="0.7"/>
<path d="M334.4,586.2 C335.3,585.7 338.1,584.3 339.8,583.2 C341.5,582.1 343.1,580.8 344.6,579.5 C346.1,578.2 347.5,576.9 348.9,575.4 C350.3,573.9 351.6,572.4 352.9,570.8 C354.2,569.2 355.3,567.5 356.5,565.8 C357.7,564.1 358.8,562.4 359.9,560.6 C361.0,558.8 362.1,557.0 363.2,555.2 C364.3,553.4 365.3,551.6 366.4,549.8 C367.5,548.0 368.6,546.2 369.7,544.4 C370.8,542.6 372.0,540.9 373.1,539.1 C374.2,537.4 375.4,535.6 376.6,533.9 C377.8,532.2 379.1,530.6 380.4,529.0 C381.7,527.4 383.0,525.7 384.3,524.1 C385.6,522.5 387.0,521.0 388.4,519.5 C389.8,518.0 391.2,516.5 392.6,515.0 C394.0,513.5 395.5,512.0 397.0,510.6 C398.5,509.2 400.1,507.8 401.6,506.4 C403.1,505.0 404.6,503.6 406.2,502.3 C407.8,501.0 409.4,499.7 411.0,498.4 C412.6,497.1 414.2,495.9 415.9,494.7 C417.6,493.5 419.3,492.2 421.0,491.0 C422.7,489.8 424.4,488.8 426.1,487.6 C427.8,486.5 429.6,485.2 431.3,484.1 C433.0,483.0 434.8,481.9 436.5,480.8 C438.2,479.7 440.1,478.6 441.8,477.5 C443.6,476.4 445.3,475.2 447.0,474.1 C448.7,473.0 450.5,471.9 452.2,470.7 C453.9,469.5 455.7,468.4 457.4,467.2 C459.1,466.0 460.8,464.8 462.4,463.6 C464.0,462.4 465.7,461.2 467.3,459.9 C468.9,458.6 470.5,457.2 472.1,455.9 C473.7,454.5 475.1,453.2 476.7,451.8 C478.2,450.4 479.8,449.1 481.4,447.7 C482.9,446.3 484.4,445.0 486.0,443.7 C487.6,442.4 489.2,441.1 490.8,439.9 C492.4,438.7 494.1,437.4 495.8,436.3 C497.5,435.2 500.1,433.6 501.0,433.1" stroke="#c6deef" stroke-width="1.7"/>
<path d="M334.4,586.2 C335.3,585.7 338.1,584.3 339.8,583.2 C341.5,582.1 343.1,580.8 344.6,579.5 C346.1,578.2 347.5,576.9 348.9,575.4 C350.3,573.9 351.6,572.4 352.9,570.8 C354.2,569.2 355.3,567.5 356.5,565.8 C357.7,564.1 358.8,562.4 359.9,560.6 C361.0,558.8 362.1,557.0 363.2,555.2 C364.3,553.4 365.3,551.6 366.4,549.8 C367.5,548.0 368.6,546.2 369.7,544.4 C370.8,542.6 372.0,540.9 373.1,539.1 C374.2,537.4 375.4,535.6 376.6,533.9 C377.8,532.2 379.1,530.6 380.4,529.0 C381.7,527.4 383.0,525.7 384.3,524.1 C385.6,522.5 387.0,521.0 388.4,519.5 C389.8,518.0 391.2,516.5 392.6,515.0 C394.0,513.5 395.5,512.0 397.0,510.6 C398.5,509.2 400.1,507.8 401.6,506.4 C403.1,505.0 404.6,503.6 406.2,502.3 C407.8,501.0 409.4,499.7 411.0,498.4 C412.6,497.1 414.2,495.9 415.9,494.7 C417.6,493.5 419.3,492.2 421.0,491.0 C422.7,489.8 424.4,488.8 426.1,487.6 C427.8,486.5 429.6,485.2 431.3,484.1 C433.0,483.0 434.8,481.9 436.5,480.8 C438.2,479.7 440.1,478.6 441.8,477.5 C443.6,476.4 445.3,475.2 447.0,474.1 C448.7,473.0 450.5,471.9 452.2,470.7 C453.9,469.5 455.7,468.4 457.4,467.2 C459.1,466.0 460.8,464.8 462.4,463.6 C464.0,462.4 465.7,461.2 467.3,459.9 C468.9,458.6 470.5,457.2 472.1,455.9 C473.7,454.5 475.1,453.2 476.7,451.8 C478.2,450.4 479.8,449.1 481.4,447.7 C482.9,446.3 484.4,445.0 486.0,443.7 C487.6,442.4 489.2,441.1 490.8,439.9 C492.4,438.7 494.1,437.4 495.8,436.3 C497.5,435.2 500.1,433.6 501.0,433.1" stroke="#90bbe5" stroke-width="0.85"/>
<path d="M335.0,599.8 C335.8,599.2 338.1,597.3 339.6,596.0 C341.1,594.7 342.6,593.3 344.0,591.9 C345.4,590.5 346.8,589.2 348.2,587.7 C349.6,586.2 350.9,584.7 352.2,583.2 C353.5,581.7 354.8,580.1 356.1,578.5 C357.4,576.9 358.6,575.4 359.9,573.8 C361.1,572.2 362.4,570.5 363.6,568.9 C364.8,567.3 366.0,565.6 367.2,564.0 C368.4,562.4 369.6,560.7 370.8,559.1 C372.0,557.5 373.3,555.8 374.5,554.2 C375.7,552.6 376.9,550.9 378.1,549.3 C379.3,547.7 380.6,546.0 381.9,544.4 C383.2,542.8 384.4,541.3 385.7,539.7 C387.0,538.1 388.3,536.6 389.6,535.0 C390.9,533.4 392.3,531.8 393.6,530.3 C394.9,528.8 396.2,527.3 397.6,525.8 C399.0,524.3 400.3,522.8 401.7,521.3 C403.1,519.8 404.5,518.3 405.9,516.8 C407.3,515.3 408.8,513.9 410.2,512.5 C411.6,511.1 413.1,509.6 414.5,508.2 C415.9,506.8 417.4,505.4 418.9,504.0 C420.4,502.6 421.8,501.2 423.3,499.8 C424.8,498.4 426.4,497.1 427.9,495.7 C429.4,494.3 430.9,493.0 432.5,491.7 C434.1,490.4 435.6,489.1 437.2,487.8 C438.8,486.5 440.3,485.2 441.9,483.9 C443.5,482.6 445.1,481.4 446.7,480.1 C448.3,478.9 450.0,477.6 451.6,476.4 C453.2,475.2 454.9,473.9 456.5,472.7 C458.1,471.5 459.8,470.3 461.5,469.1 C463.2,467.9 464.9,466.9 466.6,465.7 C468.3,464.5 470.0,463.3 471.7,462.2 C473.4,461.1 475.1,460.0 476.8,458.9 C478.5,457.8 480.4,456.8 482.1,455.7 C483.9,454.6 485.6,453.6 487.3,452.5 C489.1,451.4 490.8,450.4 492.6,449.4 C494.4,448.4 496.2,447.4 498.0,446.4 C499.8,445.4 501.6,444.4 503.4,443.5 C505.2,442.6 507.1,441.6 508.9,440.7 C510.7,439.8 512.6,438.9 514.4,438.0 C516.2,437.1 518.1,436.2 519.9,435.3 C521.7,434.4 523.5,433.6 525.4,432.8 C527.2,432.0 529.1,431.2 531.0,430.4 C532.9,429.6 534.8,428.8 536.7,428.0 C538.6,427.2 540.4,426.5 542.3,425.8 C544.2,425.1 546.1,424.3 548.0,423.6 C549.9,422.9 551.8,422.3 553.7,421.6 C555.6,420.9 557.6,420.2 559.5,419.6 C561.4,419.0 563.3,418.4 565.2,417.8 C567.1,417.2 570.0,416.3 571.0,416.0" stroke="#a3cbe6" stroke-width="0.7"/>
<path d="M571.0,416.0 L567.9,418.8 M571.0,416.0 L566.8,415.4" stroke="#e1eff3" stroke-width="0.7"/>
<path d="M333.9,608.1 C334.8,607.5 337.4,605.9 339.1,604.8 C340.8,603.6 342.4,602.5 344.0,601.2 C345.6,599.9 347.1,598.6 348.6,597.2 C350.1,595.8 351.6,594.5 353.0,593.0 C354.4,591.5 355.8,590.0 357.1,588.5 C358.5,587.0 359.8,585.5 361.1,583.9 C362.4,582.3 363.6,580.6 364.9,579.0 C366.1,577.4 367.4,575.8 368.6,574.1 C369.8,572.5 371.1,570.8 372.3,569.1 C373.5,567.4 374.7,565.7 375.9,564.0 C377.1,562.3 378.3,560.7 379.5,559.0 C380.7,557.3 381.9,555.6 383.1,553.9 C384.3,552.2 385.5,550.6 386.8,549.0 C388.1,547.4 389.4,545.7 390.7,544.1 C392.0,542.5 393.2,540.9 394.5,539.3 C395.8,537.7 397.1,536.2 398.5,534.6 C399.9,533.0 401.2,531.4 402.6,529.9 C404.0,528.4 405.3,526.9 406.7,525.4 C408.1,523.9 409.5,522.4 410.9,520.9 C412.3,519.4 413.8,518.0 415.2,516.5 C416.6,515.0 418.1,513.6 419.6,512.1 C421.1,510.7 422.5,509.2 424.0,507.8 C425.5,506.4 427.0,505.0 428.5,503.6 C430.0,502.2 431.6,500.9 433.1,499.5 C434.6,498.1 436.1,496.8 437.7,495.4 C439.2,494.0 440.8,492.7 442.4,491.4 C444.0,490.1 445.6,488.8 447.2,487.5 C448.8,486.2 450.4,484.9 452.0,483.6 C453.6,482.3 455.3,481.1 456.9,479.8 C458.5,478.6 460.1,477.3 461.8,476.1 C463.5,474.9 465.1,473.6 466.8,472.4 C468.5,471.2 470.1,470.0 471.8,468.8 C473.5,467.6 475.2,466.4 476.9,465.2 C478.6,464.0 480.4,462.9 482.1,461.8 C483.8,460.7 485.6,459.5 487.3,458.4 C489.0,457.3 490.8,456.1 492.5,455.0 C494.2,453.9 496.0,452.9 497.8,451.8 C499.6,450.8 501.4,449.7 503.2,448.7 C505.0,447.7 506.8,446.6 508.6,445.6 C510.4,444.6 512.2,443.6 514.0,442.6 C515.8,441.6 517.7,440.6 519.5,439.7 C521.3,438.8 523.2,437.8 525.0,436.9 C526.8,436.0 528.6,435.1 530.5,434.2 C532.4,433.3 534.2,432.5 536.1,431.6 C538.0,430.8 539.8,429.9 541.7,429.1 C543.6,428.3 545.5,427.5 547.4,426.7 C549.3,425.9 551.2,425.1 553.1,424.4 C555.0,423.6 556.9,422.9 558.8,422.2 C560.7,421.5 562.7,420.8 564.6,420.1 C566.5,419.4 569.4,418.4 570.4,418.1" stroke="#a3cbe6" stroke-width="0.9"/>
<path d="M570.4,418.1 L567.4,421.0 M570.4,418.1 L566.2,417.6" stroke="#e1eff3" stroke-width="0.7"/>
<path d="M332.0,611.1 C333.0,610.7 335.9,609.5 337.8,608.5 C339.7,607.5 341.5,606.5 343.2,605.4 C344.9,604.3 346.6,603.1 348.2,601.9 C349.8,600.7 351.4,599.4 352.9,598.0 C354.4,596.6 355.9,595.2 357.3,593.8 C358.7,592.3 360.0,590.8 361.4,589.3 C362.8,587.8 364.1,586.2 365.4,584.6 C366.7,583.0 367.9,581.3 369.1,579.6 C370.3,577.9 371.6,576.3 372.8,574.6 C374.0,572.9 375.1,571.1 376.3,569.4 C377.5,567.7 378.7,566.0 379.9,564.2 C381.1,562.5 382.2,560.6 383.4,558.9 C384.6,557.2 385.7,555.5 386.9,553.8 C388.1,552.1 389.4,550.4 390.6,548.7 C391.8,547.0 393.0,545.3 394.3,543.6 C395.6,541.9 396.9,540.3 398.2,538.7 C399.5,537.1 400.8,535.5 402.1,533.9 C403.4,532.3 404.8,530.7 406.1,529.1 C407.5,527.5 408.8,526.0 410.2,524.5 C411.6,523.0 413.0,521.4 414.4,519.9 C415.8,518.4 417.2,517.0 418.7,515.5 C420.1,514.0 421.6,512.6 423.1,511.2 C424.6,509.8 426.1,508.3 427.6,506.9 C429.1,505.5 430.7,504.2 432.2,502.8 C433.7,501.4 435.2,500.0 436.8,498.7 C438.4,497.4 440.0,496.1 441.6,494.8 C443.2,493.5 444.9,492.2 446.5,491.0 C448.1,489.8 449.7,488.5 451.4,487.3 C453.1,486.1 454.8,484.9 456.5,483.7 C458.2,482.5 459.9,481.4 461.6,480.2 C463.3,479.0 465.1,477.8 466.8,476.7 C468.5,475.6 470.3,474.4 472.0,473.3 C473.7,472.2 475.5,471.0 477.2,469.9 C478.9,468.8 480.6,467.6 482.4,466.5 C484.1,465.4 485.9,464.2 487.7,463.1 C489.4,462.0 491.1,460.9 492.9,459.8 C494.6,458.7 496.4,457.6 498.2,456.5 C500.0,455.4 501.7,454.4 503.5,453.3 C505.3,452.2 507.0,451.2 508.8,450.1 C510.6,449.1 512.4,448.0 514.2,447.0 C516.0,446.0 517.8,444.9 519.6,443.9 C521.4,442.9 523.2,441.9 525.0,441.0 C526.8,440.1 528.6,439.1 530.5,438.2 C532.4,437.3 534.2,436.4 536.1,435.5 C538.0,434.6 539.9,433.8 541.8,433.0 C543.7,432.2 545.6,431.4 547.5,430.6 C549.4,429.8 551.3,429.1 553.3,428.4 C555.3,427.7 557.3,427.0 559.3,426.4 C561.3,425.8 563.3,425.2 565.3,424.7 C567.3,424.1 570.5,423.4 571.5,423.1" stroke="#a3cbe6" stroke-width="0.7"/>
<path d="M571.5,423.1 L568.3,425.8 M571.5,423.1 L567.4,422.3" stroke="#e1eff3" stroke-width="0.7"/>
<path d="M328.8,617.2 C329.8,616.8 332.8,615.8 334.7,615.0 C336.6,614.2 338.4,613.4 340.2,612.4 C342.0,611.4 343.7,610.4 345.4,609.3 C347.1,608.2 348.6,606.9 350.2,605.7 C351.8,604.5 353.2,603.2 354.7,601.9 C356.2,600.6 357.6,599.1 359.0,597.7 C360.4,596.3 361.8,594.8 363.1,593.3 C364.4,591.8 365.7,590.2 367.0,588.6 C368.3,587.0 369.5,585.3 370.7,583.7 C371.9,582.1 373.1,580.5 374.3,578.8 C375.5,577.1 376.7,575.4 377.9,573.7 C379.1,572.0 380.2,570.3 381.4,568.6 C382.6,566.9 383.8,565.1 385.0,563.4 C386.2,561.7 387.3,560.1 388.5,558.4 C389.7,556.7 390.9,555.0 392.1,553.3 C393.3,551.6 394.6,549.9 395.8,548.3 C397.0,546.6 398.2,545.0 399.5,543.4 C400.8,541.8 402.0,540.1 403.3,538.5 C404.6,536.9 405.9,535.3 407.2,533.7 C408.5,532.1 409.8,530.6 411.1,529.0 C412.4,527.4 413.8,525.8 415.1,524.3 C416.5,522.8 417.8,521.3 419.2,519.8 C420.6,518.3 422.0,516.9 423.4,515.4 C424.8,513.9 426.2,512.4 427.7,511.0 C429.1,509.6 430.6,508.2 432.1,506.8 C433.6,505.4 435.1,504.0 436.6,502.7 C438.1,501.4 439.6,500.1 441.2,498.8 C442.8,497.5 444.3,496.2 445.9,494.9 C447.5,493.6 449.2,492.4 450.8,491.2 C452.4,490.0 454.1,488.7 455.7,487.5 C457.3,486.3 459.0,485.2 460.7,484.0 C462.4,482.8 464.0,481.6 465.7,480.5 C467.4,479.4 469.2,478.2 470.9,477.1 C472.6,476.0 474.3,474.9 476.0,473.8 C477.7,472.7 479.4,471.6 481.2,470.5 C482.9,469.4 484.8,468.4 486.5,467.3 C488.2,466.2 489.9,465.2 491.7,464.1 C493.4,463.0 495.2,461.9 497.0,460.9 C498.8,459.8 500.5,458.8 502.3,457.8 C504.1,456.8 505.8,455.8 507.6,454.8 C509.4,453.8 511.2,452.8 513.0,451.8 C514.8,450.8 516.5,449.8 518.3,448.8 C520.1,447.8 521.9,446.9 523.7,446.0 C525.5,445.1 527.4,444.1 529.2,443.2 C531.0,442.3 532.9,441.5 534.7,440.6 C536.6,439.7 538.4,438.8 540.3,438.0 C542.2,437.2 544.0,436.4 545.9,435.6 C547.8,434.8 549.7,434.1 551.6,433.3 C553.5,432.6 556.3,431.5 557.3,431.1" stroke="#a3cbe6" stroke-width="0.7"/>
<path d="M557.3,431.1 L554.4,434.1 M557.3,431.1 L553.1,430.8" stroke="#e1eff3" stroke-width="0.7"/>
<path d="M335.5,619.0 C336.5,618.6 339.6,617.5 341.5,616.6 C343.4,615.7 345.2,614.8 347.0,613.7 C348.8,612.7 350.5,611.5 352.1,610.3 C353.7,609.1 355.3,607.8 356.8,606.4 C358.3,605.0 359.7,603.7 361.1,602.2 C362.5,600.7 363.9,599.2 365.2,597.6 C366.5,596.0 367.8,594.4 369.0,592.7 C370.2,591.0 371.5,589.3 372.7,587.6 C373.9,585.9 375.0,584.1 376.2,582.4 C377.4,580.6 378.5,578.9 379.7,577.1 C380.9,575.3 382.0,573.6 383.1,571.8 C384.2,570.0 385.4,568.2 386.6,566.5 C387.8,564.8 389.0,563.1 390.2,561.4 C391.4,559.7 392.6,558.0 393.8,556.3 C395.0,554.6 396.3,553.0 397.6,551.4 C398.9,549.8 400.2,548.2 401.5,546.6 C402.8,545.0 404.1,543.4 405.4,541.8 C406.7,540.2 408.0,538.6 409.3,537.0 C410.6,535.4 412.0,533.9 413.3,532.3 C414.6,530.7 416.0,529.2 417.3,527.6 C418.6,526.0 420.0,524.4 421.4,522.8 C422.8,521.2 424.0,519.6 425.4,518.1 C426.8,516.6 428.2,515.0 429.6,513.5 C431.0,512.0 432.4,510.5 433.9,509.1 C435.4,507.7 436.9,506.3 438.4,504.9 C439.9,503.5 441.5,502.2 443.1,500.9 C444.7,499.6 446.3,498.3 447.9,497.1 C449.5,495.9 451.2,494.8 452.9,493.6 C454.6,492.5 456.3,491.3 458.0,490.2 C459.7,489.1 461.6,488.0 463.3,486.9 C465.1,485.8 466.7,484.8 468.5,483.7 C470.3,482.6 472.1,481.6 473.9,480.5 C475.7,479.4 477.4,478.4 479.2,477.4 C481.0,476.3 482.8,475.3 484.6,474.2 C486.4,473.1 488.1,472.1 489.9,471.0 C491.6,469.9 493.4,468.8 495.1,467.7 C496.8,466.6 498.6,465.4 500.3,464.3 C502.0,463.2 503.7,462.0 505.4,460.9 C507.1,459.8 508.9,458.6 510.6,457.5 C512.3,456.4 514.0,455.3 515.8,454.2 C517.6,453.1 519.4,452.1 521.2,451.1 C523.0,450.1 524.8,449.1 526.7,448.2 C528.6,447.3 530.5,446.5 532.4,445.7 C534.3,444.9 537.4,443.9 538.4,443.5" stroke="#a3cbe6" stroke-width="0.7"/>
<path d="M538.4,443.5 L535.5,446.5 M538.4,443.5 L534.2,443.1" stroke="#e1eff3" stroke-width="0.7"/>
<path d="M370.0,599.9 C370.5,599.0 372.1,596.5 373.1,594.7 C374.2,593.0 375.2,591.2 376.3,589.4 C377.4,587.6 378.5,585.9 379.6,584.1 C380.7,582.3 381.8,580.6 382.9,578.8 C384.0,577.0 385.2,575.2 386.4,573.5 C387.6,571.8 388.7,570.0 389.9,568.3 C391.1,566.5 392.2,564.8 393.4,563.0 C394.6,561.2 395.9,559.5 397.1,557.8 C398.3,556.1 399.6,554.4 400.8,552.7 C402.1,551.0 403.3,549.3 404.6,547.6 C405.9,545.9 407.3,544.2 408.6,542.6 C409.9,541.0 411.2,539.3 412.6,537.7 C414.0,536.1 415.3,534.5 416.7,532.9 C418.1,531.3 419.5,529.7 420.9,528.1 C422.3,526.5 423.8,525.0 425.2,523.5 C426.6,522.0 428.1,520.6 429.6,519.1 C431.1,517.6 432.6,516.1 434.1,514.7 C435.6,513.3 437.1,511.9 438.7,510.5 C440.3,509.1 441.9,507.8 443.5,506.5 C445.1,505.2 446.7,503.9 448.3,502.6 C449.9,501.3 451.6,500.1 453.3,498.9 C455.0,497.7 456.7,496.5 458.4,495.4 C460.1,494.3 461.8,493.2 463.6,492.1 C465.4,491.0 467.2,490.0 469.0,489.0 C470.8,488.0 472.6,487.0 474.4,486.0 C476.2,485.0 478.1,484.1 479.9,483.1 C481.7,482.1 483.6,481.2 485.4,480.2 C487.2,479.2 489.0,478.3 490.8,477.3 C492.6,476.3 494.4,475.4 496.2,474.4 C498.0,473.4 499.8,472.4 501.6,471.3 C503.4,470.2 505.1,469.2 506.9,468.1 C508.7,467.0 510.4,465.9 512.2,464.9 C514.0,463.9 515.9,462.9 517.7,462.0 C519.6,461.1 521.4,460.1 523.3,459.3 C525.2,458.5 527.2,457.7 529.2,457.0 C531.2,456.3 534.4,455.5 535.4,455.2" stroke="#b4d6ea" stroke-width="0.7"/>
<path d="M535.4,455.2 L532.3,458.0 M535.4,455.2 L531.3,454.5" stroke="#e1eff3" stroke-width="0.7"/>
<path d="M379.6,621.2 C379.9,620.2 380.8,617.3 381.5,615.4 C382.2,613.5 382.9,611.5 383.6,609.6 C384.3,607.7 385.1,605.7 385.8,603.8 C386.5,601.9 387.2,600.0 388.0,598.1 C388.8,596.2 389.6,594.3 390.4,592.4 C391.2,590.5 392.0,588.6 392.9,586.7 C393.8,584.8 394.7,583.0 395.6,581.1 C396.5,579.2 397.4,577.4 398.3,575.5 C399.2,573.6 400.2,571.8 401.2,570.0 C402.2,568.2 403.1,566.4 404.1,564.6 C405.1,562.8 406.2,561.0 407.3,559.2 C408.4,557.4 409.4,555.7 410.5,554.0 C411.6,552.3 412.8,550.5 413.9,548.8 C415.0,547.1 416.2,545.4 417.4,543.7 C418.6,542.0 419.8,540.3 421.0,538.7 C422.2,537.1 423.5,535.5 424.8,533.9 C426.1,532.3 427.5,530.8 428.8,529.2 C430.1,527.7 431.4,526.1 432.8,524.6 C434.2,523.1 435.7,521.6 437.1,520.1 C438.6,518.6 440.0,517.2 441.5,515.8 C443.0,514.4 444.5,513.0 446.0,511.7 C447.5,510.4 449.1,509.0 450.7,507.7 C452.3,506.4 454.0,505.1 455.6,503.9 C457.2,502.6 458.9,501.4 460.6,500.2 C462.3,499.0 464.0,497.8 465.7,496.7 C467.4,495.6 469.1,494.4 470.9,493.3 C472.6,492.2 474.4,491.1 476.2,490.0 C478.0,488.9 479.7,487.8 481.5,486.7 C483.3,485.6 485.1,484.5 486.9,483.4 C488.7,482.3 490.4,481.3 492.2,480.2 C494.0,479.1 495.8,478.1 497.5,477.0 C499.2,475.9 501.0,474.8 502.7,473.7 C504.4,472.6 506.2,471.5 507.9,470.4 C509.6,469.3 511.4,468.2 513.1,467.1 C514.8,466.0 516.5,465.0 518.3,464.0 C520.1,463.0 521.9,462.1 523.8,461.2 C525.6,460.3 527.5,459.5 529.4,458.7 C531.3,457.9 534.3,457.0 535.3,456.6" stroke="#b4d6ea" stroke-width="0.7"/>
<path d="M535.3,456.6 L532.3,459.6 M535.3,456.6 L531.1,456.2" stroke="#e1eff3" stroke-width="0.7"/>
<path d="M402.9,570.3 C403.4,569.4 404.9,566.7 406.0,564.9 C407.1,563.1 408.2,561.3 409.3,559.5 C410.4,557.7 411.5,555.9 412.7,554.1 C413.9,552.3 415.1,550.6 416.3,548.9 C417.5,547.2 418.8,545.4 420.0,543.7 C421.2,542.0 422.5,540.4 423.8,538.7 C425.1,537.0 426.5,535.3 427.8,533.7 C429.1,532.1 430.5,530.5 431.9,528.9 C433.3,527.3 434.7,525.8 436.2,524.3 C437.7,522.8 439.2,521.2 440.7,519.7 C442.2,518.2 443.6,516.8 445.2,515.4 C446.8,514.0 448.4,512.6 450.0,511.2 C451.6,509.8 453.2,508.5 454.9,507.2 C456.5,505.9 458.2,504.6 459.9,503.4 C461.6,502.2 463.3,501.0 465.1,499.8 C466.9,498.6 468.7,497.5 470.5,496.4 C472.3,495.3 474.1,494.3 476.0,493.3 C477.9,492.3 479.7,491.2 481.6,490.3 C483.5,489.4 486.4,488.1 487.4,487.7" stroke="#b4d6ea" stroke-width="0.6"/>
<path d="M419.7,558.8 C420.2,557.8 421.5,554.7 422.5,552.8 C423.5,550.9 424.6,549.0 425.7,547.2 C426.8,545.4 428.0,543.7 429.3,542.0 C430.6,540.3 431.9,538.7 433.3,537.1 C434.7,535.5 436.1,534.1 437.6,532.6 C439.1,531.1 440.6,529.7 442.1,528.3 C443.6,526.9 445.2,525.5 446.8,524.2 C448.4,522.9 450.1,521.6 451.8,520.3 C453.5,519.0 455.1,517.7 456.8,516.5 C458.5,515.3 460.3,514.1 462.0,512.9 C463.7,511.7 465.5,510.5 467.2,509.3 C468.9,508.1 470.7,506.9 472.4,505.7 C474.1,504.5 475.9,503.3 477.6,502.1 C479.3,500.9 481.1,499.6 482.8,498.4 C484.5,497.1 486.2,495.9 487.8,494.6 C489.4,493.3 491.1,492.1 492.7,490.8 C494.3,489.5 496.0,488.1 497.6,486.8 C499.2,485.5 500.9,484.2 502.5,482.9 C504.1,481.6 505.8,480.3 507.4,479.1 C509.0,477.9 510.7,476.6 512.4,475.5 C514.1,474.4 515.9,473.2 517.7,472.2 C519.5,471.2 521.3,470.2 523.2,469.3 C525.1,468.4 527.1,467.6 529.1,466.9 C531.1,466.2 534.4,465.5 535.4,465.2" stroke="#b4d6ea" stroke-width="0.6"/>
<path d="M535.4,465.2 L532.2,467.9 M535.4,465.2 L531.3,464.5" stroke="#e1eff3" stroke-width="0.7"/>
<path d="M419.7,557.4 C420.5,556.7 423.0,554.5 424.6,553.1 C426.2,551.7 427.9,550.2 429.6,548.8 C431.3,547.4 433.0,546.0 434.7,544.6 C436.4,543.2 438.0,541.8 439.7,540.4 C441.4,539.0 443.1,537.6 444.8,536.2 C446.5,534.8 448.3,533.6 450.0,532.2 C451.7,530.9 453.4,529.4 455.1,528.1 C456.8,526.8 458.6,525.5 460.4,524.2 C462.1,522.9 463.9,521.5 465.6,520.2 C467.4,518.9 469.1,517.7 470.9,516.4 C472.7,515.1 474.4,513.9 476.2,512.6 C478.0,511.3 479.8,510.0 481.6,508.8 C483.4,507.6 485.2,506.4 487.0,505.2 C488.8,504.0 490.7,502.7 492.5,501.5 C494.3,500.3 496.1,499.2 497.9,498.0 C499.7,496.8 501.6,495.6 503.5,494.5 C505.4,493.4 507.1,492.2 509.0,491.1 C510.9,490.0 513.7,488.3 514.6,487.7" stroke="#b4d6ea" stroke-width="0.6"/>
<path d="M514.6,487.7 L512.3,491.2 M514.6,487.7 L510.4,488.1" stroke="#e1eff3" stroke-width="0.7"/>
<path d="M447.4,533.5 C448.2,532.8 450.5,530.4 452.1,529.0 C453.8,527.6 455.5,526.4 457.3,525.2 C459.1,524.0 461.0,523.0 462.9,522.0 C464.8,521.0 466.7,520.0 468.6,519.1 C470.6,518.2 472.6,517.4 474.6,516.5 C476.6,515.6 478.5,514.9 480.5,514.0 C482.5,513.1 484.5,512.2 486.5,511.3 C488.5,510.4 490.4,509.4 492.3,508.3 C494.2,507.2 496.1,506.1 497.9,504.9 C499.7,503.7 501.5,502.3 503.3,501.0 C505.1,499.7 506.8,498.2 508.7,497.1 C510.6,496.0 513.5,494.6 514.5,494.1" stroke="#cfe5ee" stroke-width="0.6"/>
<path d="M514.5,494.1 L512.0,497.4 M514.5,494.1 L510.3,494.3" stroke="#e1eff3" stroke-width="0.7"/>
<path d="M435.6,460.2 C436.6,459.8 439.6,458.5 441.6,457.6 C443.6,456.7 445.6,455.8 447.6,454.9 C449.6,454.0 451.6,453.0 453.5,452.0 C455.4,451.0 457.4,449.9 459.3,448.9 C461.2,447.8 463.1,446.8 465.0,445.7 C466.9,444.6 468.8,443.5 470.7,442.4 C472.6,441.3 474.5,440.1 476.4,439.0 C478.3,437.9 480.2,436.8 482.1,435.7 C484.0,434.6 485.8,433.4 487.7,432.3 C489.6,431.2 491.5,430.1 493.4,429.0 C495.3,427.9 497.3,426.9 499.2,425.8 C501.1,424.7 503.1,423.6 505.0,422.6 C506.9,421.6 508.9,420.6 510.8,419.7 C512.8,418.8 514.7,417.8 516.7,416.9 C518.7,416.0 520.7,415.1 522.7,414.3 C524.7,413.5 526.8,412.6 528.9,411.9 C531.0,411.1 533.0,410.4 535.1,409.8 C537.2,409.2 539.4,408.5 541.5,408.0 C543.6,407.5 545.8,407.0 548.0,406.6 C550.2,406.2 553.6,405.7 554.7,405.5" stroke="#b4d6ea" stroke-width="0.6"/>
<path d="M554.7,405.5 L551.2,407.9 M554.7,405.5 L550.7,404.3" stroke="#e1eff3" stroke-width="0.7"/>
<path d="M423.2,473.1 C424.2,472.7 427.2,471.7 429.2,470.9 C431.2,470.1 433.2,469.3 435.1,468.4 C437.1,467.5 439.0,466.6 440.9,465.6 C442.8,464.7 444.6,463.7 446.5,462.7 C448.4,461.7 450.2,460.6 452.1,459.5 C454.0,458.4 455.8,457.4 457.6,456.3 C459.4,455.2 461.2,454.0 463.0,452.9 C464.8,451.8 466.6,450.6 468.4,449.4 C470.2,448.2 471.9,447.0 473.7,445.8 C475.5,444.6 477.3,443.4 479.1,442.2 C480.9,441.0 482.6,439.9 484.4,438.7 C486.2,437.5 488.0,436.3 489.8,435.1 C491.6,433.9 493.3,432.8 495.1,431.6 C496.9,430.5 498.8,429.3 500.6,428.2 C502.4,427.1 504.3,426.0 506.1,424.9 C507.9,423.8 509.7,422.8 511.6,421.8 C513.5,420.8 515.4,419.8 517.3,418.9 C519.2,417.9 521.1,417.0 523.1,416.1 C525.1,415.2 527.0,414.4 529.0,413.6 C531.0,412.8 533.0,412.1 535.0,411.4 C537.0,410.7 539.1,410.0 541.2,409.4 C543.3,408.8 545.4,408.3 547.5,407.8 C549.6,407.3 553.0,406.8 554.1,406.6" stroke="#b4d6ea" stroke-width="0.6"/>
<path d="M554.1,406.6 L550.7,409.0 M554.1,406.6 L550.0,405.5" stroke="#e1eff3" stroke-width="0.7"/>
<path d="M424.0,476.9 C425.0,476.5 427.9,475.2 429.8,474.3 C431.7,473.4 433.7,472.5 435.6,471.6 C437.5,470.7 439.4,469.8 441.3,468.8 C443.2,467.9 445.1,466.9 447.0,465.9 C448.9,464.9 450.7,463.9 452.6,462.9 C454.5,461.9 456.3,460.8 458.2,459.8 C460.1,458.8 461.9,457.8 463.8,456.7 C465.7,455.6 467.5,454.6 469.3,453.5 C471.1,452.4 473.0,451.4 474.9,450.3 C476.8,449.2 478.6,448.2 480.4,447.1 C482.2,446.0 484.0,445.0 485.9,443.9 C487.8,442.8 489.6,441.8 491.5,440.7 C493.4,439.6 495.1,438.6 497.0,437.5 C498.9,436.4 500.7,435.4 502.6,434.4 C504.5,433.4 506.4,432.4 508.3,431.4 C510.2,430.4 512.0,429.4 513.9,428.4 C515.8,427.4 517.7,426.5 519.6,425.6 C521.5,424.7 523.5,423.7 525.4,422.8 C527.3,421.9 529.2,421.1 531.2,420.2 C533.2,419.3 535.1,418.5 537.1,417.7 C539.1,416.9 541.1,416.1 543.1,415.4 C545.1,414.7 547.1,414.0 549.1,413.3 C551.1,412.6 553.2,411.9 555.3,411.3 C557.4,410.7 559.5,410.1 561.6,409.6 C563.7,409.1 566.9,408.4 567.9,408.1" stroke="#b4d6ea" stroke-width="0.6"/>
<path d="M567.9,408.1 L564.6,410.7 M567.9,408.1 L563.8,407.2" stroke="#e1eff3" stroke-width="0.7"/>
<path d="M423.0,488.6 C425.2,487.4 431.1,484.3 436.2,481.5 C441.3,478.7 450.9,473.6 453.8,472.0" stroke="#b4d6ea" stroke-width="0.6"/>
<path d="M456.3,444.3 C456.7,443.9 458.0,442.9 458.9,442.2 C459.8,441.5 460.7,440.9 461.6,440.3 C462.5,439.7 463.4,439.2 464.4,438.6 C465.4,438.1 466.4,437.5 467.4,437.0 C468.4,436.5 469.3,435.9 470.3,435.4 C471.3,434.9 472.2,434.3 473.2,433.8 C474.2,433.3 475.6,432.5 476.1,432.2" stroke="#cfe5ee" stroke-width="0.6"/>
<path d="M476.1,432.2 L473.6,435.6 M476.1,432.2 L471.9,432.5" stroke="#e1eff3" stroke-width="0.7"/>
<path d="M460.0,446.5 C460.8,446.1 463.2,444.8 464.7,443.9 C466.2,443.0 467.7,442.0 469.2,441.0 C470.7,440.0 472.1,438.9 473.5,437.9 C474.9,436.9 476.4,435.8 477.9,434.8 C479.4,433.8 480.8,432.7 482.3,431.7 C483.8,430.7 485.3,429.8 486.8,428.9 C488.3,428.0 490.7,426.7 491.5,426.3" stroke="#cfe5ee" stroke-width="0.6"/>
<path d="M491.5,426.3 L489.0,429.7 M491.5,426.3 L487.3,426.6" stroke="#e1eff3" stroke-width="0.7"/>
<path d="M482.0,434.8 C483.0,434.4 486.0,433.1 488.0,432.1 C490.0,431.2 491.9,430.1 493.8,429.1 C495.7,428.1 497.6,427.0 499.5,425.9 C501.4,424.8 503.3,423.7 505.2,422.6 C507.1,421.6 509.1,420.6 511.0,419.6 C513.0,418.6 514.9,417.6 516.9,416.7 C518.9,415.8 522.0,414.7 523.0,414.3" stroke="#cfe5ee" stroke-width="0.6"/>
<path d="M523.0,414.3 L520.1,417.4 M523.0,414.3 L518.8,414.0" stroke="#e1eff3" stroke-width="0.7"/>
<path d="M489.3,433.3 C490.3,432.7 493.2,431.0 495.2,429.8 C497.2,428.6 499.1,427.5 501.1,426.3 C503.1,425.1 505.1,423.9 507.1,422.7 C509.1,421.5 511.1,420.4 513.1,419.3 C515.1,418.2 517.1,417.2 519.2,416.2 C521.3,415.2 523.4,414.3 525.5,413.5 C527.6,412.7 531.0,411.8 532.1,411.4" stroke="#cfe5ee" stroke-width="0.6"/>
<path d="M532.1,411.4 L529.0,414.3 M532.1,411.4 L527.9,410.8" stroke="#e1eff3" stroke-width="0.7"/>
<path d="M572.8,415.8 C576.0,414.6 585.7,410.6 591.8,408.4 C597.9,406.1 606.5,403.3 609.4,402.3" stroke="#c6dde8" stroke-width="0.5"/>
<path d="M609.4,402.3 L606.4,405.2 M609.4,402.3 L605.2,401.8" stroke="#e1eff3" stroke-width="0.7"/>
<path d="M587.8,741.5 C590.5,742.4 598.9,745.4 603.9,746.9 C608.9,748.4 615.6,749.9 617.9,750.5" stroke="#b4d6ea" stroke-width="0.6"/>
<path d="M587.8,741.5 L592.0,741.0 M587.8,741.5 L590.8,744.4" stroke="#e1eff3" stroke-width="0.7"/>
<path d="M603.9,739.6 C606.8,740.6 615.5,743.7 621.5,745.4 C627.5,747.1 636.8,749.1 639.8,749.8" stroke="#b4d6ea" stroke-width="0.6"/>
<path d="M609.8,739.6 C612.5,740.5 620.8,743.2 625.9,744.7 C631.0,746.2 638.1,747.7 640.6,748.3" stroke="#b4d6ea" stroke-width="0.6"/>
<path d="M797.8,750.1 C798.7,749.3 801.6,747.1 803.1,745.2 C804.6,743.4 805.5,741.2 806.5,739.0 C807.5,736.8 808.1,734.5 808.8,732.2 C809.5,729.9 810.0,727.4 810.8,725.1 C811.6,722.8 812.3,720.5 813.4,718.4 C814.5,716.3 815.7,714.1 817.2,712.3 C818.7,710.5 820.5,708.8 822.6,707.4 C824.7,706.0 828.8,704.5 830.0,703.9" stroke="#b4d6ea" stroke-width="0.6"/>
<path d="M802.5,750.1 C803.2,749.2 805.4,746.6 806.6,744.7 C807.8,742.8 808.7,740.8 809.6,738.7 C810.5,736.6 811.3,734.4 812.2,732.3 C813.1,730.2 813.8,728.1 814.8,726.1 C815.8,724.1 816.9,722.0 818.1,720.1 C819.3,718.2 820.6,716.4 822.0,714.7 C823.4,713.0 825.0,711.2 826.7,709.7 C828.4,708.2 830.1,706.7 832.0,705.4 C833.9,704.1 836.0,702.8 838.1,701.7 C840.2,700.6 843.8,699.3 844.9,698.8" stroke="#b4d6ea" stroke-width="0.6"/>
</g>
<!-- frame -->
<rect x="153.5" y="273.0" width="717.0" height="478.0" fill="none" stroke="#000" stroke-width="1.1"/>
<g stroke="#000" fill="none">
<path d="M153.50,273.0 V264.70 M153.50,750.95 V759.25" stroke-width="0.6"/>
<path d="M213.25,273.0 V264.70 M213.25,750.95 V759.25" stroke-width="0.6"/>
<path d="M273.00,273.0 V264.70 M273.00,750.95 V759.25" stroke-width="0.6"/>
<path d="M273.00,273.0 V256.70 M273.00,750.95 V767.25" stroke-width="1.1"/>
<path d="M332.75,273.0 V264.70 M332.75,750.95 V759.25" stroke-width="0.6"/>
<path d="M392.50,273.0 V264.70 M392.50,750.95 V759.25" stroke-width="0.6"/>
<path d="M452.25,273.0 V264.70 M452.25,750.95 V759.25" stroke-width="0.6"/>
<path d="M512.00,273.0 V264.70 M512.00,750.95 V759.25" stroke-width="0.6"/>
<path d="M512.00,273.0 V256.70 M512.00,750.95 V767.25" stroke-width="1.1"/>
<path d="M571.75,273.0 V264.70 M571.75,750.95 V759.25" stroke-width="0.6"/>
<path d="M631.50,273.0 V264.70 M631.50,750.95 V759.25" stroke-width="0.6"/>
<path d="M691.25,273.0 V264.70 M691.25,750.95 V759.25" stroke-width="0.6"/>
<path d="M751.00,273.0 V264.70 M751.00,750.95 V759.25" stroke-width="0.6"/>
<path d="M751.00,273.0 V256.70 M751.00,750.95 V767.25" stroke-width="1.1"/>
<path d="M810.75,273.0 V264.70 M810.75,750.95 V759.25" stroke-width="0.6"/>
<path d="M870.50,273.0 V264.70 M870.50,750.95 V759.25" stroke-width="0.6"/>
<path d="M153.5,739.00 H145.20 M870.5,739.00 H878.80" stroke-width="0.6"/>
<path d="M153.5,715.10 H145.20 M870.5,715.10 H878.80" stroke-width="0.6"/>
<path d="M153.5,691.21 H145.20 M870.5,691.21 H878.80" stroke-width="0.6"/>
<path d="M153.5,691.21 H137.20 M870.5,691.21 H886.80" stroke-width="1.1"/>
<path d="M153.5,667.31 H145.20 M870.5,667.31 H878.80" stroke-width="0.6"/>
<path d="M153.5,643.41 H145.20 M870.5,643.41 H878.80" stroke-width="0.6"/>
<path d="M153.5,619.51 H145.20 M870.5,619.51 H878.80" stroke-width="0.6"/>
<path d="M153.5,595.62 H145.20 M870.5,595.62 H878.80" stroke-width="0.6"/>
<path d="M153.5,571.72 H145.20 M870.5,571.72 H878.80" stroke-width="0.6"/>
<path d="M153.5,571.72 H137.20 M870.5,571.72 H886.80" stroke-width="1.1"/>
<path d="M153.5,547.82 H145.20 M870.5,547.82 H878.80" stroke-width="0.6"/>
<path d="M153.5,523.92 H145.20 M870.5,523.92 H878.80" stroke-width="0.6"/>
<path d="M153.5,500.03 H145.20 M870.5,500.03 H878.80" stroke-width="0.6"/>
<path d="M153.5,476.13 H145.20 M870.5,476.13 H878.80" stroke-width="0.6"/>
<path d="M153.5,452.23 H145.20 M870.5,452.23 H878.80" stroke-width="0.6"/>
<path d="M153.5,452.23 H137.20 M870.5,452.23 H886.80" stroke-width="1.1"/>
<path d="M153.5,428.33 H145.20 M870.5,428.33 H878.80" stroke-width="0.6"/>
<path d="M153.5,404.44 H145.20 M870.5,404.44 H878.80" stroke-width="0.6"/>
<path d="M153.5,380.54 H145.20 M870.5,380.54 H878.80" stroke-width="0.6"/>
<path d="M153.5,356.64 H145.20 M870.5,356.64 H878.80" stroke-width="0.6"/>
<path d="M153.5,332.74 H145.20 M870.5,332.74 H878.80" stroke-width="0.6"/>
<path d="M153.5,332.74 H137.20 M870.5,332.74 H886.80" stroke-width="1.1"/>
<path d="M153.5,308.85 H145.20 M870.5,308.85 H878.80" stroke-width="0.6"/>
<path d="M153.5,284.95 H145.20 M870.5,284.95 H878.80" stroke-width="0.6"/>
</g>
<g font-size="22">
<text transform="translate(272.40,798.90) scale(1,1.045)" font-size="22" text-anchor="middle">140W</text>
<text transform="translate(511.40,798.90) scale(1,1.045)" font-size="22" text-anchor="middle">120W</text>
<text transform="translate(750.40,798.90) scale(1,1.045)" font-size="22" text-anchor="middle">100W</text>
<text transform="translate(123.50,340.64) scale(1,1.045)" font-size="22" text-anchor="end">50N</text>
<text transform="translate(123.50,460.13) scale(1,1.045)" font-size="22" text-anchor="end">40N</text>
<text transform="translate(123.50,579.62) scale(1,1.045)" font-size="22" text-anchor="end">30N</text>
<text transform="translate(123.50,699.11) scale(1,1.045)" font-size="22" text-anchor="end">20N</text>
</g>
<!-- reference vector box -->
<rect x="814.3" y="808.3" width="56.3" height="58.4" fill="#fff" stroke="#6e6e6e" stroke-width="0.95"/>
<text transform="translate(842.20,828.90) scale(1,1.045)" font-size="22" text-anchor="middle">10</text>
<path d="M819.4,845.3 H865 M865,845.3 L854.7,841 M865,845.3 L854.7,849.8" stroke="#e6f1f1" stroke-width="0.8" fill="none"/>
<!-- colorbar -->
<rect x="196.50" y="902.4" width="39.4" height="42.8" fill="#e6f1f0" stroke="#1a1a1a" stroke-width="0.55"/>
<rect x="235.90" y="902.4" width="39.4" height="42.8" fill="#cae3e8" stroke="#1a1a1a" stroke-width="0.55"/>
<rect x="275.30" y="902.4" width="39.4" height="42.8" fill="#aed3e4" stroke="#1a1a1a" stroke-width="0.55"/>
<rect x="314.70" y="902.4" width="39.4" height="42.8" fill="#97c4e2" stroke="#1a1a1a" stroke-width="0.55"/>
<rect x="354.10" y="902.4" width="39.4" height="42.8" fill="#83b4e3" stroke="#1a1a1a" stroke-width="0.55"/>
<rect x="393.50" y="902.4" width="39.4" height="42.8" fill="#77a3e0" stroke="#1a1a1a" stroke-width="0.55"/>
<rect x="432.90" y="902.4" width="39.4" height="42.8" fill="#7490e0" stroke="#1a1a1a" stroke-width="0.55"/>
<rect x="472.30" y="902.4" width="39.4" height="42.8" fill="#777bdc" stroke="#1a1a1a" stroke-width="0.55"/>
<rect x="511.70" y="902.4" width="39.4" height="42.8" fill="#7a67cf" stroke="#1a1a1a" stroke-width="0.55"/>
<rect x="551.10" y="902.4" width="39.4" height="42.8" fill="#7b55bb" stroke="#1a1a1a" stroke-width="0.55"/>
<rect x="590.50" y="902.4" width="39.4" height="42.8" fill="#7942a5" stroke="#1a1a1a" stroke-width="0.55"/>
<rect x="629.90" y="902.4" width="39.4" height="42.8" fill="#73318c" stroke="#1a1a1a" stroke-width="0.55"/>
<rect x="669.30" y="902.4" width="39.4" height="42.8" fill="#6a2371" stroke="#1a1a1a" stroke-width="0.55"/>
<rect x="708.70" y="902.4" width="39.4" height="42.8" fill="#5c1956" stroke="#1a1a1a" stroke-width="0.55"/>
<rect x="748.10" y="902.4" width="39.4" height="42.8" fill="#4b123a" stroke="#1a1a1a" stroke-width="0.55"/>
<rect x="787.50" y="902.4" width="39.4" height="42.8" fill="#380d25" stroke="#1a1a1a" stroke-width="0.55"/>
<text transform="translate(275.30,973.90) scale(1,1.045)" font-size="22" text-anchor="middle">200</text>
<text transform="translate(354.10,973.90) scale(1,1.045)" font-size="22" text-anchor="middle">400</text>
<text transform="translate(432.90,973.90) scale(1,1.045)" font-size="22" text-anchor="middle">600</text>
<text transform="translate(511.70,973.90) scale(1,1.045)" font-size="22" text-anchor="middle">800</text>
<text transform="translate(590.50,973.90) scale(1,1.045)" font-size="22" text-anchor="middle">1000</text>
<text transform="translate(669.30,973.90) scale(1,1.045)" font-size="22" text-anchor="middle">1200</text>
<text transform="translate(748.10,973.90) scale(1,1.045)" font-size="22" text-anchor="middle">1400</text>
</svg>
</body>
</html>
